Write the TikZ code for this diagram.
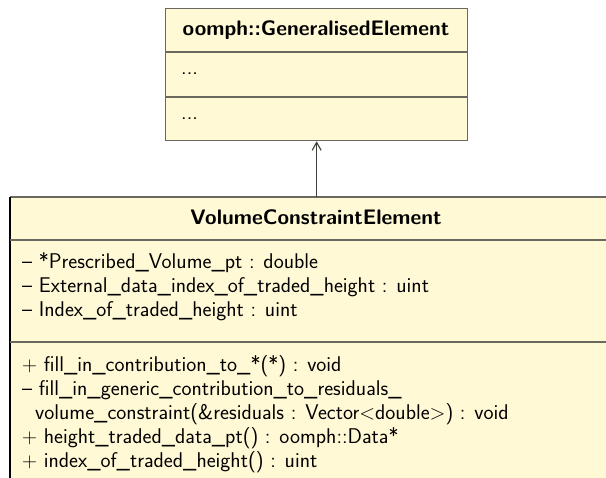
\documentclass[tikz,border=0pt]{standalone}
\usetikzlibrary{arrows.meta}
\definecolor{umlfill}{RGB}{255,249,214}
\definecolor{umlline}{RGB}{105,105,95}
\begin{document}
\begin{tikzpicture}[x=1pt,y=1pt,
  font=\sffamily\fontsize{21.3}{24}\selectfont,
  classbox/.style={draw=umlline, fill=umlfill, line width=1.3pt, inner sep=0pt, anchor=north west},
  sepline/.style={draw=umlline, line width=1.3pt},
  titletext/.style={font=\sffamily\bfseries\fontsize{21}{24}\selectfont, anchor=center},
  member/.style={anchor=west, inner sep=0pt}]
\useasboundingbox (0,0) rectangle (606,-478);
\clip (0,0) rectangle (606,-478);
% base class
\node[classbox, minimum width=302pt, minimum height=132pt] (gen) at (165,-8) {};
\draw[sepline] (165,-52) -- (467,-52);
\draw[sepline] (165,-97) -- (467,-97);
\node[titletext] (gent) at (316,-30) {oomph::GeneralisedElement};
\node[member] (gd1) at (181,-74) {...};
\node[member] (gd2) at (181,-119) {...};
% derived class
\node[fill=umlfill, inner sep=0pt, anchor=north west, minimum width=620pt, minimum height=300pt] (vce) at (10,-197) {};
\draw[sepline] (vce.north west) -- (vce.north east);
\draw[black, line width=1.3pt] (vce.north west) -- (vce.south west);
\draw[sepline] (10,-240) -- (620,-240);
\draw[sepline] (10,-342) -- (620,-342);
\node[titletext] (vcet) at (316,-217) {VolumeConstraintElement};
\node[member] (a1) at (22,-263) {\textendash{} *Prescribed\_Volume\_pt : double};
\node[member] (a2) at (22,-287) {\textendash{} External\_data\_index\_of\_traded\_height : uint};
\node[member] (a3) at (22,-311) {\textendash{} Index\_of\_traded\_height : uint};
\node[member] (m1) at (22,-366) {$+$ fill\_in\_contribution\_to\_*(*) : void};
\node[member] (m2) at (22,-390) {\textendash{} fill\_in\_generic\_contribution\_to\_residuals\_};
\node[member] (m2b) at (35,-414) {volume\_constraint(\&residuals : Vector$<$double$>$) : void};
\node[member] (m3) at (22,-438) {$+$ height\_traded\_data\_pt() : oomph::Data*};
\node[member] (m4) at (22,-462) {$+$ index\_of\_traded\_height() : uint};
% generalisation
\draw[umlline!60!black, line width=1.1pt, -{Straight Barb[length=8pt,width=9pt]}] (gen.south |- vce.north) -- (gen.south);
\end{tikzpicture}
\end{document}
